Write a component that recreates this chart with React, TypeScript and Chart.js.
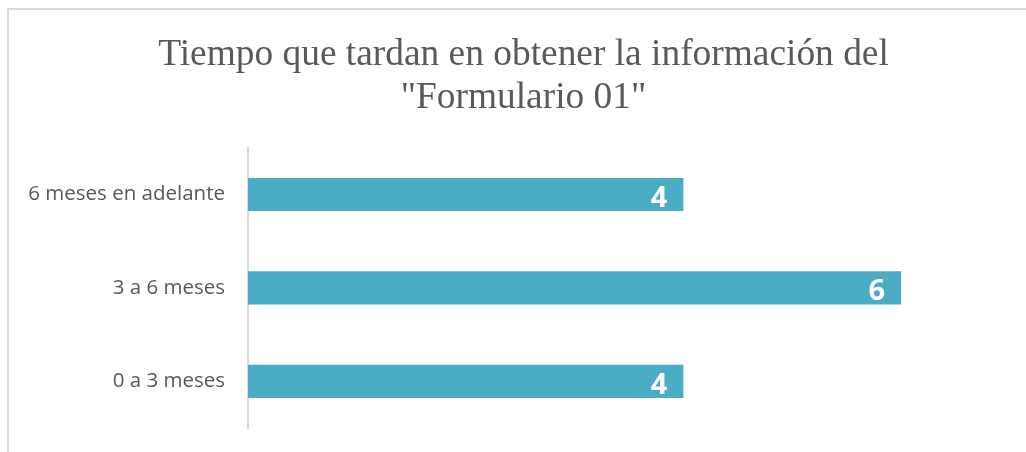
import React, { useEffect, useRef } from "react";
import { Chart, registerables } from "chart.js";

Chart.register(...registerables);

const titleLines: string[] = ["Tiempo que tardan en obtener la información del", "\"Formulario 01\""];
const categories: string[] = ["6 meses en adelante", "3 a 6 meses", "0 a 3 meses"];
const values: number[] = [4, 6, 4];
const xMin = 0;
const xMax = 7;

const BAR_COLOR = "#4BACC6";
const TEXT_COLOR = "#595959";
const FRAME_COLOR = "#D9D9D9";

const framePlugin = {
  id: "frame",
  beforeDraw(chart: any) {
    const ctx = chart.ctx;
    ctx.save();
    ctx.fillStyle = "#ffffff";
    ctx.fillRect(0, 0, chart.width, chart.height);
    ctx.fillStyle = FRAME_COLOR;
    ctx.fillRect(7, 8, chart.width - 7, 2);
    ctx.fillRect(7, 8, 2, chart.height - 8);
    ctx.restore();
  },
};

const valueLabelPlugin = {
  id: "valueLabels",
  afterDatasetsDraw(chart: any) {
    const ctx = chart.ctx;
    const meta = chart.getDatasetMeta(0);
    const data = chart.data.datasets[0].data as number[];
    ctx.save();
    ctx.fillStyle = "#ffffff";
    ctx.font = "bold 29px 'Open Sans'";
    ctx.textAlign = "right";
    ctx.textBaseline = "alphabetic";
    meta.data.forEach((el: any, i: number) => {
      ctx.fillText(String(data[i]), el.x - 16, el.y + 12.5);
    });
    ctx.restore();
  },
};

export default function App() {
  const ref = useRef<HTMLCanvasElement | null>(null);

  useEffect(() => {
    if (!ref.current) return;
    const chart = new Chart(ref.current, {
      type: "bar",
      data: {
        labels: categories,
        datasets: [
          {
            data: values,
            backgroundColor: BAR_COLOR,
            borderWidth: 0,
            categoryPercentage: 1,
            barPercentage: 0.355,
          },
        ],
      },
      options: {
        indexAxis: "y",
        animation: false,
        responsive: false,
        devicePixelRatio: 1,
        layout: { padding: { left: 37, right: 16, top: 8, bottom: 24 } },
        plugins: {
          legend: { display: false },
          tooltip: { enabled: false },
          title: {
            display: true,
            text: titleLines,
            color: TEXT_COLOR,
            font: { family: "'Liberation Serif'", size: 37.4, weight: "normal", lineHeight: 1.16 },
            padding: { top: 25, bottom: 28 },
          },
        },
        scales: {
          x: {
            display: false,
            min: xMin,
            max: xMax,
          },
          y: {
            grid: {
              display: true,
              drawOnChartArea: false,
              drawTicks: true,
              tickLength: 20,
              color: "rgba(0,0,0,0)",
            },
            border: { display: true, color: FRAME_COLOR, width: 2 },
            ticks: {
              color: TEXT_COLOR,
              padding: 3,
              font: { family: "'Open Sans'", size: 20.5 },
            },
            afterFit(scale: any) {
              scale.width = 211;
              scale._computeLabelArea = () => undefined;
            },
          },
        },
      },
      plugins: [framePlugin, valueLabelPlugin],
    });
    return () => chart.destroy();
  }, []);

  return (
    <div style={{ position: "absolute", left: 0, top: 0, width: 1026, height: 452 }}>
      <canvas ref={ref} width={1026} height={452} style={{ display: "block" }} />
    </div>
  );
}
